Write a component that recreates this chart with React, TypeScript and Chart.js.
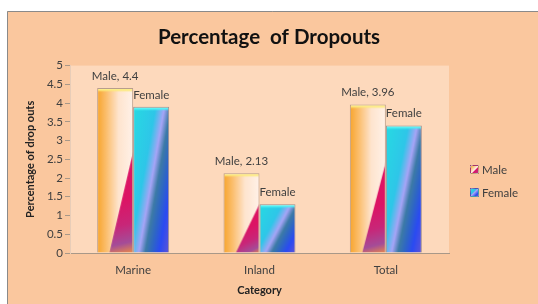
import React, { useEffect, useRef } from "react";
import { Chart, registerables } from "chart.js";

Chart.register(...registerables);

const categories = ["Marine", "Inland", "Total"];
const seriesNames = ["Male", "Female"];
const maleValues = [4.4, 2.13, 3.96];
const femaleValues = [3.9, 1.3, 3.4];
const yTicks = [0, 0.5, 1, 1.5, 2, 2.5, 3, 3.5, 4, 4.5, 5];
const chartTitle = "Percentage  of Dropouts";
const xTitle = "Category";
const yTitle = "Percentage of drop outs";

const CAT_PCT = 0.57;
const FONT = "Lato, 'Open Sans', sans-serif";
const TEXT = "#404040";

function barBox(chart: any, di: number, ds: number, v: number) {
  const xs = chart.scales.x;
  const ys = chart.scales.y;
  const center = xs.getPixelForValue(di);
  const catW = xs.width / categories.length;
  const bw = (catW * CAT_PCT) / 2;
  const x0 = ds === 0 ? center - bw : center;
  return { x0, x1: x0 + bw, top: ys.getPixelForValue(v), bottom: ys.getPixelForValue(0) };
}

function paintMale(ctx: CanvasRenderingContext2D, w: number, h: number) {
  const g = ctx.createLinearGradient(0, 0, w, 0);
  g.addColorStop(0, "#F7A42C");
  g.addColorStop(0.25, "#FBBE6E");
  g.addColorStop(0.58, "#FEE4CE");
  g.addColorStop(1, "#FFF2EA");
  ctx.fillStyle = g;
  ctx.fillRect(0, 0, w, h);
  // magenta wedge
  const ax = 0.33 * w, ay = h, bx = w, by = 0.36 * h;
  const mx = (ax + bx) / 2, my = (ay + by) / 2;
  const tg = ctx.createLinearGradient(mx, my, w, h);
  tg.addColorStop(0, "#DC1464");
  tg.addColorStop(0.45, "#C82678");
  tg.addColorStop(0.78, "#A44C98");
  tg.addColorStop(1, "#EE8E44");
  ctx.fillStyle = tg;
  ctx.beginPath();
  ctx.moveTo(ax, ay);
  ctx.lineTo(bx, by);
  ctx.lineTo(w, h);
  ctx.closePath();
  ctx.fill();
  // top bevel
  const bv = ctx.createLinearGradient(0, 0, 0, 4);
  bv.addColorStop(0, "#FFF7A8");
  bv.addColorStop(0.5, "#FCEA7C");
  bv.addColorStop(1, "rgba(252,232,112,0)");
  ctx.fillStyle = bv;
  ctx.fillRect(1, 0, w - 2, 4);
}

function paintFemale(ctx: CanvasRenderingContext2D, w: number, h: number) {
  const a = 0.7, c = 1.0;
  const ux = c * h, uy = a * w;
  const len2 = ux * ux + uy * uy;
  const tmax = (w * ux + h * uy) / len2;
  const g = ctx.createLinearGradient(0, 0, ux * tmax, uy * tmax);
  g.addColorStop(0, "#26DAE2");
  g.addColorStop(0.36, "#2EC6E8");
  g.addColorStop(0.5, "#A6A4F6");
  g.addColorStop(0.6, "#3C7AA6");
  g.addColorStop(0.7, "#2E66C4");
  g.addColorStop(0.82, "#2A4AF2");
  g.addColorStop(1, "#6656D2");
  ctx.fillStyle = g;
  ctx.fillRect(0, 0, w, h);
  const bv = ctx.createLinearGradient(0, 0, 0, 4);
  bv.addColorStop(0, "#8CFFFF");
  bv.addColorStop(0.5, "#4CF0F4");
  bv.addColorStop(1, "rgba(76,240,244,0)");
  ctx.fillStyle = bv;
  ctx.fillRect(1, 0, w - 2, 4);
}

function makeBg(ds: number) {
  return (context: any) => {
    const chart = context.chart;
    const fallback = ds === 0 ? "#F9C080" : "#30B0E8";
    if (!chart.chartArea || context.type !== "data") return fallback;
    const v = context.raw as number;
    const b = barBox(chart, context.dataIndex, ds, v);
    const w = Math.max(1, Math.ceil(b.x1 - b.x0));
    const h = Math.max(1, Math.ceil(b.bottom - b.top));
    if (h < 2) return fallback;
    const off = document.createElement("canvas");
    off.width = w;
    off.height = h;
    const octx = off.getContext("2d") as CanvasRenderingContext2D;
    if (ds === 0) paintMale(octx, w, h);
    else paintFemale(octx, w, h);
    const pat = chart.ctx.createPattern(off, "no-repeat");
    if (!pat) return fallback;
    pat.setTransform(new DOMMatrix().translate(b.x0, b.top));
    return pat;
  };
}

const bgPlugin = {
  id: "bgPlugin",
  beforeDraw(chart: any) {
    const { ctx, width, height, chartArea } = chart;
    ctx.save();
    ctx.fillStyle = "#FFFFFF";
    ctx.fillRect(0, 0, width, height);
    ctx.fillStyle = "#FAC79E";
    ctx.fillRect(7, 11, width - 7, height - 11);
    ctx.strokeStyle = "#8A8A8A";
    ctx.lineWidth = 1;
    ctx.beginPath();
    ctx.moveTo(7.5, height);
    ctx.lineTo(7.5, 11.5);
    ctx.lineTo(width, 11.5);
    ctx.stroke();
    ctx.fillStyle = "#FDD9BC";
    ctx.fillRect(chartArea.left, chartArea.top, chartArea.right - chartArea.left, chartArea.bottom - chartArea.top);
    ctx.restore();
  },
};

const labelPlugin = {
  id: "labelPlugin",
  afterDatasetsDraw(chart: any) {
    const { ctx } = chart;
    ctx.save();
    ctx.font = `11.5px ${FONT}`;
    ctx.fillStyle = TEXT;
    ctx.textBaseline = "middle";
    chart.data.datasets.forEach((dset: any, ds: number) => {
      dset.data.forEach((v: number, i: number) => {
        const b = barBox(chart, i, ds, v);
        if (ds === 0) {
          ctx.textAlign = "center";
          ctx.fillText(`${seriesNames[0]}, ${v}`, (b.x0 + b.x1) / 2, b.top - 12);
        } else {
          ctx.textAlign = "left";
          ctx.fillText(seriesNames[1], b.x0, b.top - 12);
        }
      });
    });
    ctx.restore();
  },
};

export default function App() {
  const ref = useRef<HTMLCanvasElement | null>(null);
  useEffect(() => {
    if (!ref.current) return;
    const chart = new Chart(ref.current, {
      type: "bar",
      data: {
        labels: categories,
        datasets: [
          {
            label: seriesNames[0],
            data: maleValues,
            backgroundColor: makeBg(0),
            borderColor: "rgba(130,110,100,0.55)",
            borderWidth: 1,
            categoryPercentage: CAT_PCT,
            barPercentage: 1,
          },
          {
            label: seriesNames[1],
            data: femaleValues,
            backgroundColor: makeBg(1),
            borderColor: "rgba(80,80,110,0.55)",
            borderWidth: 1,
            categoryPercentage: CAT_PCT,
            barPercentage: 1,
          },
        ],
      },
      options: {
        animation: false,
        responsive: true,
        maintainAspectRatio: false,
        layout: { padding: { left: 20, right: 20, top: 0, bottom: 3 } },
        plugins: {
          legend: { display: false },
          tooltip: { enabled: false },
          title: {
            display: true,
            text: chartTitle,
            color: "#111111",
            font: { family: FONT, size: 20.5, weight: "bold" },
            padding: { top: 25, bottom: 16 },
          },
        },
        scales: {
          x: {
            grid: { display: false, drawTicks: false },
            border: { display: true, color: "#A89888" },
            ticks: { color: TEXT, font: { family: FONT, size: 11.5 }, padding: 10 },
            title: {
              display: true,
              text: xTitle,
              color: "#222222",
              font: { family: FONT, size: 11, weight: "bold" },
              padding: { top: 4, bottom: 4 },
            },
            afterFit(scale: any) {
              scale.height = 48;
            },
          },
          y: {
            min: 0,
            max: 5,
            afterBuildTicks(scale: any) {
              scale.ticks = yTicks.map((v) => ({ value: v }));
            },
            grid: { display: true, drawOnChartArea: false, drawTicks: true, tickLength: 5, color: "#A89888" },
            border: { display: true, color: "#E8CDB8" },
            ticks: {
              color: TEXT,
              font: { family: FONT, size: 11.5 },
              padding: 2,
              callback: (v: any) => String(v),
            },
            title: {
              display: true,
              text: yTitle,
              color: "#222222",
              font: { family: FONT, size: 11, weight: "bold" },
              padding: { top: 4, bottom: 4 },
            },
            afterFit(scale: any) {
              scale.width = 50;
            },
          },
          legendSpace: {
            type: "linear",
            position: "right",
            display: true,
            grid: { display: false, drawTicks: false },
            border: { display: false },
            ticks: { display: false },
            afterFit(scale: any) {
              scale.width = 69;
            },
          },
        },
      },
      plugins: [bgPlugin, labelPlugin],
    });
    return () => chart.destroy();
  }, []);

  const legendItem = (name: string, bg: string, top: number) => (
    <div
      style={{
        position: "absolute",
        left: 470,
        top: top - 8,
        height: 16,
        display: "flex",
        alignItems: "center",
        fontFamily: FONT,
        fontSize: 11.5,
        color: TEXT,
      }}
    >
      <span
        style={{
          display: "inline-block",
          width: 7,
          height: 7,
          background: bg,
          marginRight: 3,
          border: "1px solid rgba(100,90,90,0.4)",
        }}
      />
      {name}
    </div>
  );

  return (
    <div style={{ position: "fixed", left: 0, top: 0, width: 538, height: 304 }}>
      <canvas ref={ref} />
      {legendItem(seriesNames[0], "linear-gradient(135deg, #F9A834 0%, #FFF2EE 55%, #DA1468 60%, #C42E7C 100%)", 169)}
      {legendItem(seriesNames[1], "linear-gradient(135deg, #28D8E4 0%, #30C4E8 35%, #A4A2F6 50%, #2A4CF0 80%, #6A58D0 100%)", 192)}
    </div>
  );
}
